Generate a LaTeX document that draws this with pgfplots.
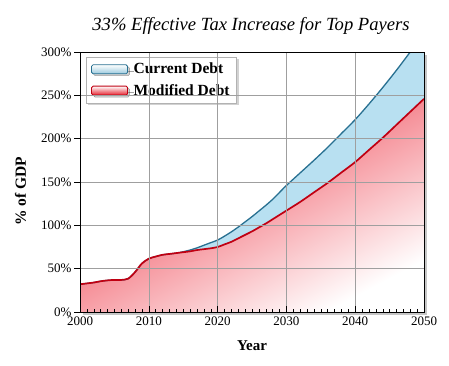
\documentclass[border=0pt]{standalone}
\usepackage{pgfplots}
\pgfplotsset{compat=1.18}
\usepackage{pgfplotstable}
\usepgfplotslibrary{fillbetween}
\usetikzlibrary{shadows}
\usepackage{fontspec}
\setmainfont{Liberation Serif}
\definecolor{bluefill}{RGB}{184,224,241}
\definecolor{blueline}{RGB}{40,112,145}
\definecolor{redline}{RGB}{192,0,18}
\definecolor{redtop}{RGB}{230,35,48}
\definecolor{redmid}{RGB}{246,150,158}

\pgfplotstableread{
year val
2000 32
2001 33
2002 34
2003 35.5
2004 36.5
2005 37
2006 37
2007 38.5
2008 46
2009 56
2010 61.5
2011 64
2012 66
2013 67
2014 68
2015 69
2016 70
2017 71.5
2018 72.5
2019 73.5
2020 75
2021 78
2022 81
2023 85
2024 89
2025 93
2026 97.5
2027 102
2028 107
2029 112
2030 117
2032 127
2034 138
2036 149
2038 161
2040 173
2042 187
2044 201
2046 216
2048 231
2050 246
}\reddata

\pgfplotstableread{
year val
2000 32
2001 33
2002 34
2003 35.5
2004 36.5
2005 37
2006 37
2007 38.5
2008 46
2009 56
2010 61.5
2011 64
2012 66
2013 67
2014 68
2015 69.5
2016 71.5
2017 74
2018 77
2019 80
2020 83
2021 87.5
2022 92.5
2023 98
2024 104
2025 110
2026 116.5
2027 123
2028 130
2029 138
2030 146
2032 160.5
2034 175
2036 190
2038 206
2040 222
2042 240
2044 259
2046 279
2048 300
2050 321
}\bluedata

\begin{document}
\begin{tikzpicture}[x=1pt,y=1pt]
\path (0,0) rectangle (449,365);
\begin{axis}[
  at={(80pt,53pt)}, anchor=south west,
  width=344pt, height=260pt, scale only axis,
  xmin=2000, xmax=2050, ymin=0, ymax=300,
  xtick={2000,2010,...,2050},
  minor x tick num=9,
  ytick={0,50,...,300},
  yticklabel={\pgfmathprintnumber{\tick}\%},
  /pgf/number format/.cd, 1000 sep={}, assume math mode=true, /pgfplots/.cd,
  ticklabel style={font=\fontsize{13}{14}\selectfont},
  xticklabel style={yshift=-1.5pt},
  yticklabel style={xshift=1pt},
  xtick pos=bottom, ytick pos=left,
  xtick align=inside, ytick align=outside,
  major tick length=6pt, minor tick length=3pt,
  tick style={black, thin},
  grid=major,
  major grid style={gray!75, thin},
  axis on top,
  axis line style={black, line width=0.8pt},
  axis background/.style={fill=white, drop shadow={shadow xshift=3pt, shadow yshift=-3pt, opacity=0.45}},
  legend style={at={(0.0174,0.981)}, anchor=north west, draw=gray!60, fill=white,
    drop shadow={shadow xshift=2pt, shadow yshift=-2pt, opacity=0.35},
    font=\fontsize{15.5}{17}\selectfont\bfseries, row sep=5pt, inner xsep=5pt, inner ysep=4pt},
  legend cell align=left,
]
\addplot[name path=bluep, draw=none, forget plot] table[x=year,y=val] {\bluedata};
\addplot[name path=redp, draw=none, forget plot] table[x=year,y=val] {\reddata};
\addplot[bluefill, forget plot] fill between[of=bluep and redp];
\addplot[draw=none, top color=redtop, bottom color=white, middle color=redmid, shading angle=28, forget plot] table[x=year,y=val] {\reddata} \closedcycle;
\addplot[blueline, line width=1.3pt, smooth, forget plot] table[x=year,y=val] {\bluedata};
\addplot[redline, line width=1.7pt, smooth, forget plot] table[x=year,y=val] {\reddata};

\addlegendimage{legend image code/.code={\path[draw=none,fill=none] (0pt,0pt) -- (40pt,0pt); \draw[blueline, line width=0.8pt, rounded corners=1.5pt, top color=white, bottom color=bluefill!80!blueline] (0pt,-4.5pt) rectangle (36pt,4.5pt);}}
\addlegendentry{Current Debt}
\addlegendimage{legend image code/.code={\path[draw=none,fill=none] (0pt,0pt) -- (40pt,0pt); \draw[redline, line width=0.8pt, rounded corners=1.5pt, top color=white, bottom color=redtop] (0pt,-4.5pt) rectangle (36pt,4.5pt);}}
\addlegendentry{Modified Debt}
\end{axis}
\node[font=\fontsize{18.6}{20}\selectfont\itshape] at (251,339) {33\% Effective Tax Increase for Top Payers};
\node[font=\fontsize{15}{17}\selectfont\bfseries] at (252,19) {Year};
\node[font=\fontsize{15.5}{17}\selectfont\bfseries, rotate=90] at (20.5,174) {\% of GDP};
\end{tikzpicture}
\end{document}
